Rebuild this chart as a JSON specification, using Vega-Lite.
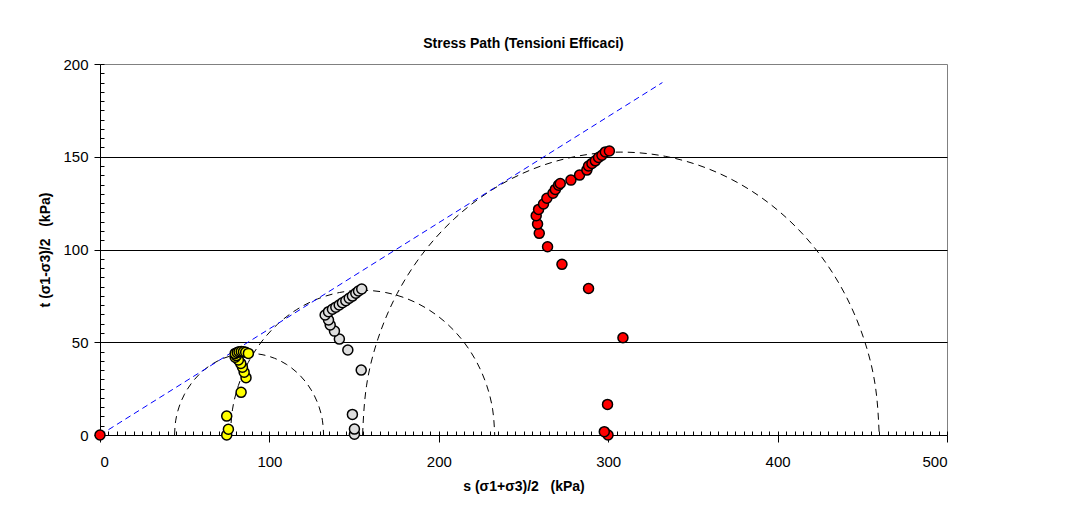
{
  "$schema": "https://vega.github.io/schema/vega-lite/v6.json",
  "width": 847,
  "height": 371,
  "autosize": {"type": "none"},
  "padding": {"left": 100, "top": 64, "right": 133, "bottom": 80},
  "background": "white",
  "config": {
    "view": {"stroke": "#808080", "strokeWidth": 1},
    "font": "Liberation Sans",
    "axis": {"labelColor": "black", "titleColor": "black", "tickColor": "black", "domainColor": "black", "labelFont": "Liberation Sans", "titleFont": "Liberation Sans"}
  },
  "title": {"text": "Stress Path (Tensioni Efficaci)", "fontSize": 14, "fontWeight": "bold", "anchor": "middle", "offset": 6, "color": "black", "font": "Liberation Sans"},
  "datasets": {
    "circles": [
      {"c": 1, "i": 0, "s": 44.0, "t": 0},
      {"c": 1, "i": 1, "s": 44.67, "t": 7.64},
      {"c": 1, "i": 2, "s": 46.65, "t": 15.05},
      {"c": 1, "i": 3, "s": 49.89, "t": 22.0},
      {"c": 1, "i": 4, "s": 54.3, "t": 28.28},
      {"c": 1, "i": 5, "s": 59.72, "t": 33.7},
      {"c": 1, "i": 6, "s": 66.0, "t": 38.11},
      {"c": 1, "i": 7, "s": 72.95, "t": 41.35},
      {"c": 1, "i": 8, "s": 80.36, "t": 43.33},
      {"c": 1, "i": 9, "s": 88.0, "t": 44.0},
      {"c": 1, "i": 10, "s": 95.64, "t": 43.33},
      {"c": 1, "i": 11, "s": 103.05, "t": 41.35},
      {"c": 1, "i": 12, "s": 110.0, "t": 38.11},
      {"c": 1, "i": 13, "s": 116.28, "t": 33.7},
      {"c": 1, "i": 14, "s": 121.7, "t": 28.28},
      {"c": 1, "i": 15, "s": 126.11, "t": 22.0},
      {"c": 1, "i": 16, "s": 129.35, "t": 15.05},
      {"c": 1, "i": 17, "s": 131.33, "t": 7.64},
      {"c": 1, "i": 18, "s": 132.0, "t": 0},
      {"c": 2, "i": 0, "s": 77.0, "t": 0},
      {"c": 2, "i": 1, "s": 78.18, "t": 13.54},
      {"c": 2, "i": 2, "s": 81.7, "t": 26.68},
      {"c": 2, "i": 3, "s": 87.45, "t": 39.0},
      {"c": 2, "i": 4, "s": 95.25, "t": 50.14},
      {"c": 2, "i": 5, "s": 104.86, "t": 59.75},
      {"c": 2, "i": 6, "s": 116.0, "t": 67.55},
      {"c": 2, "i": 7, "s": 128.32, "t": 73.3},
      {"c": 2, "i": 8, "s": 141.46, "t": 76.82},
      {"c": 2, "i": 9, "s": 155.0, "t": 78.0},
      {"c": 2, "i": 10, "s": 168.54, "t": 76.82},
      {"c": 2, "i": 11, "s": 181.68, "t": 73.3},
      {"c": 2, "i": 12, "s": 194.0, "t": 67.55},
      {"c": 2, "i": 13, "s": 205.14, "t": 59.75},
      {"c": 2, "i": 14, "s": 214.75, "t": 50.14},
      {"c": 2, "i": 15, "s": 222.55, "t": 39.0},
      {"c": 2, "i": 16, "s": 228.3, "t": 26.68},
      {"c": 2, "i": 17, "s": 231.82, "t": 13.54},
      {"c": 2, "i": 18, "s": 233.0, "t": 0},
      {"c": 3, "i": 0, "s": 155.0, "t": 0},
      {"c": 3, "i": 1, "s": 157.32, "t": 26.48},
      {"c": 3, "i": 2, "s": 164.2, "t": 52.16},
      {"c": 3, "i": 3, "s": 175.43, "t": 76.25},
      {"c": 3, "i": 4, "s": 190.68, "t": 98.03},
      {"c": 3, "i": 5, "s": 209.47, "t": 116.82},
      {"c": 3, "i": 6, "s": 231.25, "t": 132.07},
      {"c": 3, "i": 7, "s": 255.34, "t": 143.3},
      {"c": 3, "i": 8, "s": 281.02, "t": 150.18},
      {"c": 3, "i": 9, "s": 307.5, "t": 152.5},
      {"c": 3, "i": 10, "s": 333.98, "t": 150.18},
      {"c": 3, "i": 11, "s": 359.66, "t": 143.3},
      {"c": 3, "i": 12, "s": 383.75, "t": 132.07},
      {"c": 3, "i": 13, "s": 405.53, "t": 116.82},
      {"c": 3, "i": 14, "s": 424.32, "t": 98.03},
      {"c": 3, "i": 15, "s": 439.57, "t": 76.25},
      {"c": 3, "i": 16, "s": 450.8, "t": 52.16},
      {"c": 3, "i": 17, "s": 457.68, "t": 26.48},
      {"c": 3, "i": 18, "s": 460.0, "t": 0}
    ],
    "envelope": [
      {"s": 0, "t": 0},
      {"s": 332, "t": 190}
    ],
    "points": [
      {"serie": "Provino 1", "s": 74.8, "t": 0},
      {"serie": "Provino 1", "s": 75.8, "t": 3.1},
      {"serie": "Provino 1", "s": 74.8, "t": 10.2},
      {"serie": "Provino 1", "s": 83.3, "t": 23.0},
      {"serie": "Provino 1", "s": 86.2, "t": 30.9},
      {"serie": "Provino 1", "s": 85.1, "t": 33.8},
      {"serie": "Provino 1", "s": 84.1, "t": 36.5},
      {"serie": "Provino 1", "s": 83.1, "t": 38.6},
      {"serie": "Provino 1", "s": 81.7, "t": 40.4},
      {"serie": "Provino 1", "s": 79.8, "t": 41.9},
      {"serie": "Provino 1", "s": 80.5, "t": 42.8},
      {"serie": "Provino 1", "s": 79.8, "t": 44.0},
      {"serie": "Provino 1", "s": 81.0, "t": 44.5},
      {"serie": "Provino 1", "s": 82.1, "t": 44.9},
      {"serie": "Provino 1", "s": 83.4, "t": 45.0},
      {"serie": "Provino 1", "s": 84.7, "t": 44.9},
      {"serie": "Provino 1", "s": 86.0, "t": 44.6},
      {"serie": "Provino 1", "s": 87.6, "t": 44.0},
      {"serie": "Provino 2", "s": 150.2, "t": 0.4},
      {"serie": "Provino 2", "s": 150.2, "t": 3.2},
      {"serie": "Provino 2", "s": 149.0, "t": 11.1},
      {"serie": "Provino 2", "s": 154.2, "t": 35.0},
      {"serie": "Provino 2", "s": 146.3, "t": 45.8},
      {"serie": "Provino 2", "s": 141.3, "t": 51.7},
      {"serie": "Provino 2", "s": 138.4, "t": 56.0},
      {"serie": "Provino 2", "s": 135.9, "t": 59.3},
      {"serie": "Provino 2", "s": 134.9, "t": 62.0},
      {"serie": "Provino 2", "s": 132.9, "t": 64.7},
      {"serie": "Provino 2", "s": 134.9, "t": 66.5},
      {"serie": "Provino 2", "s": 137.2, "t": 67.8},
      {"serie": "Provino 2", "s": 139.2, "t": 68.9},
      {"serie": "Provino 2", "s": 141.2, "t": 70.1},
      {"serie": "Provino 2", "s": 143.1, "t": 71.3},
      {"serie": "Provino 2", "s": 145.1, "t": 72.4},
      {"serie": "Provino 2", "s": 147.1, "t": 73.7},
      {"serie": "Provino 2", "s": 149.0, "t": 74.9},
      {"serie": "Provino 2", "s": 151.0, "t": 76.4},
      {"serie": "Provino 2", "s": 152.6, "t": 77.6},
      {"serie": "Provino 2", "s": 154.5, "t": 78.7},
      {"serie": "Provino 3", "s": 0, "t": 0},
      {"serie": "Provino 3", "s": 299.9, "t": 0},
      {"serie": "Provino 3", "s": 297.7, "t": 1.8},
      {"serie": "Provino 3", "s": 299.6, "t": 16.5},
      {"serie": "Provino 3", "s": 308.7, "t": 52.4},
      {"serie": "Provino 3", "s": 288.4, "t": 79.0},
      {"serie": "Provino 3", "s": 272.7, "t": 92.0},
      {"serie": "Provino 3", "s": 264.2, "t": 101.5},
      {"serie": "Provino 3", "s": 259.3, "t": 108.7},
      {"serie": "Provino 3", "s": 258.3, "t": 113.7},
      {"serie": "Provino 3", "s": 257.5, "t": 118.2},
      {"serie": "Provino 3", "s": 258.9, "t": 121.6},
      {"serie": "Provino 3", "s": 261.8, "t": 124.5},
      {"serie": "Provino 3", "s": 263.8, "t": 127.6},
      {"serie": "Provino 3", "s": 267.4, "t": 130.3},
      {"serie": "Provino 3", "s": 268.8, "t": 132.4},
      {"serie": "Provino 3", "s": 270.7, "t": 134.7},
      {"serie": "Provino 3", "s": 271.7, "t": 135.6},
      {"serie": "Provino 3", "s": 278.0, "t": 137.4},
      {"serie": "Provino 3", "s": 283.1, "t": 140.1},
      {"serie": "Provino 3", "s": 287.4, "t": 142.8},
      {"serie": "Provino 3", "s": 288.4, "t": 145.0},
      {"serie": "Provino 3", "s": 290.4, "t": 146.4},
      {"serie": "Provino 3", "s": 292.4, "t": 147.8},
      {"serie": "Provino 3", "s": 294.3, "t": 149.6},
      {"serie": "Provino 3", "s": 296.3, "t": 150.8},
      {"serie": "Provino 3", "s": 298.3, "t": 152.6},
      {"serie": "Provino 3", "s": 300.7, "t": 153.1}
    ]
  },
  "layer": [
    {
      "data": {"name": "circles"},
      "mark": {"type": "line", "color": "black", "strokeWidth": 1, "strokeDash": [7, 5], "interpolate": "natural"},
      "encoding": {
        "x": {"field": "s", "type": "quantitative", "scale": {"domain": [0, 500], "nice": false},
          "axis": {"orient": "bottom", "tickCount": 100, "labels": false, "domain": false, "grid": false, "tickSize": -4, "title": null}},
        "y": {"field": "t", "type": "quantitative", "scale": {"domain": [0, 200], "nice": false},
          "axis": {"orient": "left", "tickCount": 40, "labels": false, "domain": false, "grid": false, "tickSize": -4, "title": null}},
        "detail": {"field": "c", "type": "nominal"},
        "order": {"field": "i", "type": "quantitative"}
      }
    },
    {
      "data": {"name": "envelope"},
      "mark": {"type": "line", "color": "#0000FF", "strokeWidth": 1, "strokeDash": [6, 4]},
      "encoding": {
        "x": {"field": "s", "type": "quantitative", "axis": null},
        "y": {"field": "t", "type": "quantitative", "axis": null}
      }
    },
    {
      "data": {"name": "points"},
      "mark": {"type": "point", "filled": true, "shape": "circle", "size": 100, "stroke": "black", "strokeWidth": 1.5, "opacity": 1},
      "encoding": {
        "x": {"field": "s", "type": "quantitative",
          "axis": {"orient": "bottom", "values": [0, 100, 200, 300, 400, 500], "tickSize": 7, "labelPadding": 12, "labelFontSize": 15, "grid": false,
            "title": "s (σ1+σ3)/2\u00a0\u00a0\u00a0(kPa)", "titleFontSize": 14, "titleFontWeight": "bold", "titlePadding": 10}},
        "y": {"field": "t", "type": "quantitative",
          "axis": {"orient": "left", "values": [0, 50, 100, 150, 200], "tickSize": 6, "labelPadding": 6, "labelFontSize": 15,
            "grid": true, "gridColor": {"condition": {"test": "datum.value >= 200 || datum.value <= 0", "value": "transparent"}, "value": "black"},
            "title": "t (σ1-σ3)/2\u00a0\u00a0\u00a0(kPa)", "titleFontSize": 14, "titleFontWeight": "bold", "titlePadding": 10}},
        "fill": {"field": "serie", "type": "nominal",
          "scale": {"domain": ["Provino 1", "Provino 2", "Provino 3"], "range": ["#FFFF00", "#DDDDDD", "#FF0000"]},
          "legend": null}
      }
    }
  ],
  "resolve": {"axis": {"x": "independent", "y": "independent"}}
}
